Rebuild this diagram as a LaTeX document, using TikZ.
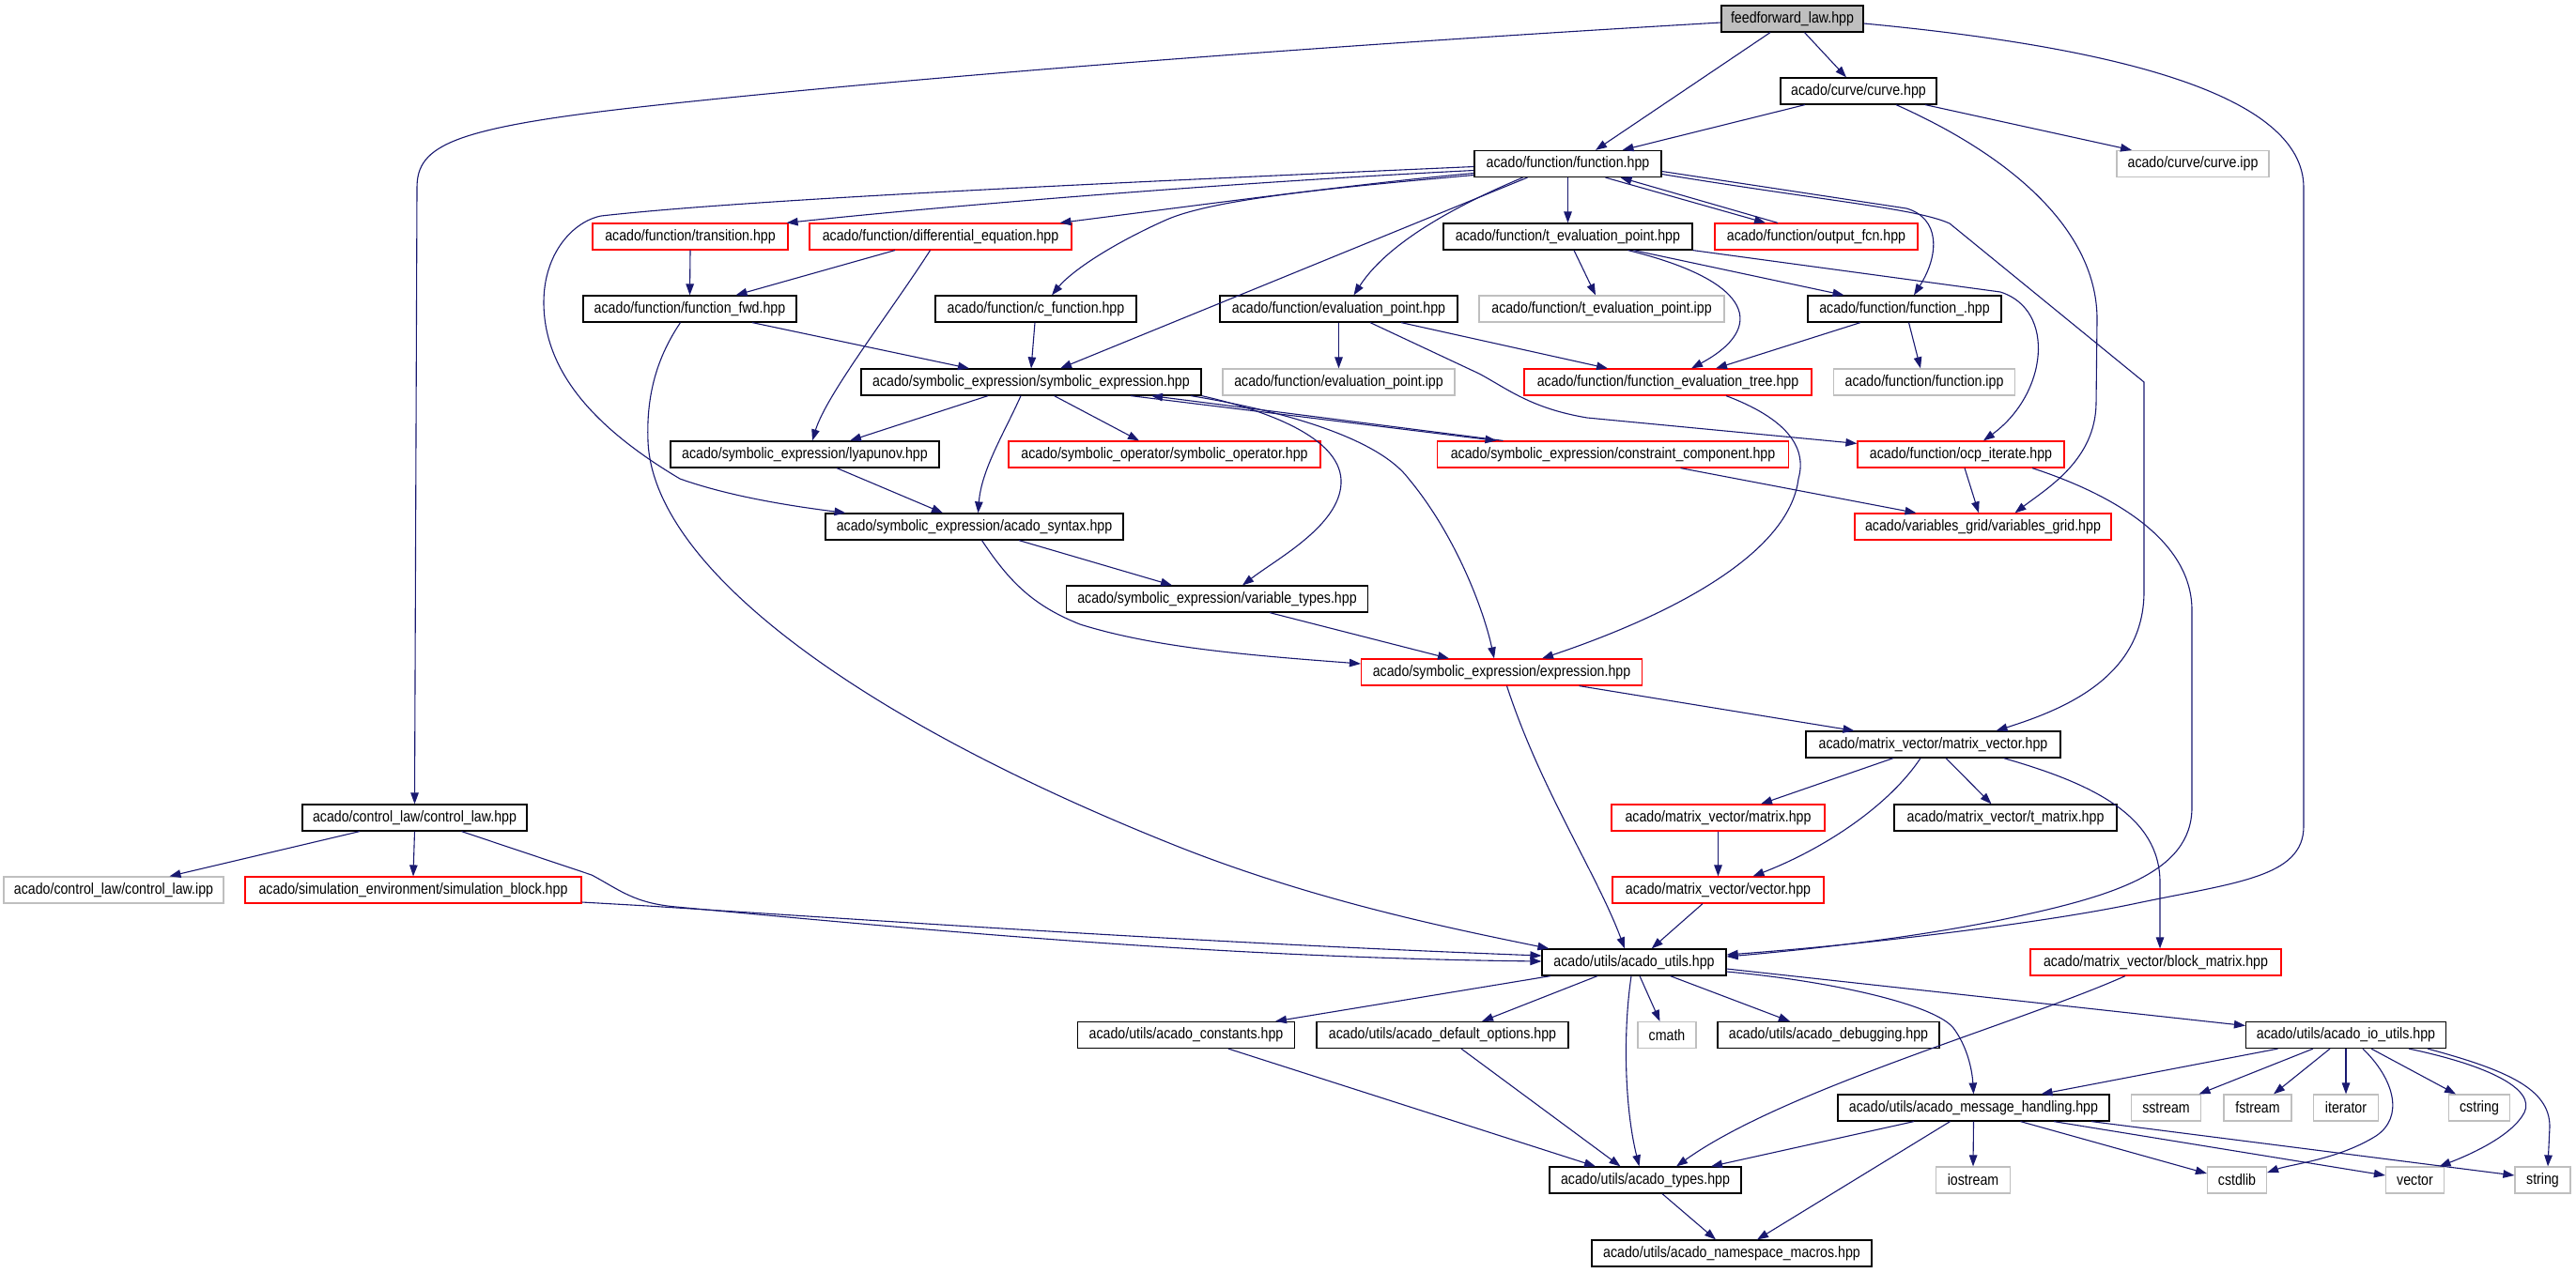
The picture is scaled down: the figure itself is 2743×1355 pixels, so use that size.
\documentclass[tikz,border=0pt]{standalone}
\usepackage{fontspec}
\setmainfont{Liberation Sans}[FakeStretch=0.86]
\usetikzlibrary{arrows.meta}
\definecolor{edgecol}{RGB}{25,25,112}
\definecolor{nodered}{RGB}{255,0,0}
\definecolor{nodegray}{RGB}{191,191,191}
\begin{document}
\begin{tikzpicture}[x=1pt,y=-1pt,
  nb/.style={draw=black, line width=1.2pt, fill=white, minimum height=28pt, inner xsep=2pt, inner ysep=0pt, font=\fontsize{16.5}{18}\selectfont, text=black},
  nr/.style={nb, draw=nodered},
  ng/.style={nb, draw=nodegray},
  lk/.style={draw=edgecol, line width=1.1pt, -{Triangle[length=12pt,width=8.5pt]}}]
\useasboundingbox (0,0) rectangle (2743,1355);
% nodes
\node[nb,minimum width=151pt,fill=nodegray] (F) at (1908.5,20) {feedforward\_law.hpp};
\node[nb,minimum width=166pt] (curve) at (1979,97) {acado/curve/curve.hpp};
\node[ng,minimum width=162pt] (curveipp) at (2335,174.5) {acado/curve/curve.ipp};
\node[nb,minimum width=199pt] (func) at (1669.5,174.5) {acado/function/function.hpp};
\node[nr,minimum width=208pt] (trans) at (735,252) {acado/function/transition.hpp};
\node[nr,minimum width=279pt] (diffeq) at (1001.5,252) {acado/function/differential\_equation.hpp};
\node[nb,minimum width=265pt] (tevalp) at (1669.5,252) {acado/function/t\_evaluation\_point.hpp};
\node[nr,minimum width=216pt] (outfcn) at (1934,252) {acado/function/output\_fcn.hpp};
\node[nb,minimum width=227pt] (ffwd) at (734.5,329) {acado/function/function\_fwd.hpp};
\node[nb,minimum width=214pt] (cfunc) at (1103,329) {acado/function/c\_function.hpp};
\node[nb,minimum width=253pt] (evalp) at (1425.5,329) {acado/function/evaluation\_point.hpp};
\node[ng,minimum width=261pt] (tevalipp) at (1705.5,329) {acado/function/t\_evaluation\_point.ipp};
\node[nb,minimum width=206pt] (funcu) at (2028,329) {acado/function/function\_.hpp};
\node[nb,minimum width=362pt] (symexp) at (1098,407) {acado/symbolic\_expression/symbolic\_expression.hpp};
\node[ng,minimum width=247pt] (evalipp) at (1425.5,407) {acado/function/evaluation\_point.ipp};
\node[nr,minimum width=306pt] (fevtree) at (1776,407) {acado/function/function\_evaluation\_tree.hpp};
\node[ng,minimum width=193pt] (funcipp) at (2049,407) {acado/function/function.ipp};
\node[nb,minimum width=286pt] (lyap) at (857,484) {acado/symbolic\_expression/lyapunov.hpp};
\node[nr,minimum width=332pt] (symop) at (1240,484) {acado/symbolic\_operator/symbolic\_operator.hpp};
\node[nr,minimum width=374pt] (constr) at (1717.5,484) {acado/symbolic\_expression/constraint\_component.hpp};
\node[nr,minimum width=220pt] (ocp) at (2088,484) {acado/function/ocp\_iterate.hpp};
\node[nb,minimum width=317pt] (syntax) at (1037.5,561) {acado/symbolic\_expression/acado\_syntax.hpp};
\node[nr,minimum width=273pt] (vgrid) at (2111.5,561) {acado/variables\_grid/variables\_grid.hpp};
\node[nb,minimum width=321pt] (vtypes) at (1296,638) {acado/symbolic\_expression/variable\_types.hpp};
\node[nr,minimum width=299pt] (expr) at (1599,716) {acado/symbolic\_expression/expression.hpp};
\node[nb,minimum width=271pt] (mv) at (2058.5,793) {acado/matrix\_vector/matrix\_vector.hpp};
\node[nb,minimum width=239pt] (claw) at (441.5,871) {acado/control\_law/control\_law.hpp};
\node[nr,minimum width=227pt] (matrix) at (1829.5,871) {acado/matrix\_vector/matrix.hpp};
\node[nb,minimum width=237pt] (tmatrix) at (2135.5,871) {acado/matrix\_vector/t\_matrix.hpp};
\node[ng,minimum width=234pt] (clawipp) at (121,948) {acado/control\_law/control\_law.ipp};
\node[nr,minimum width=358pt] (simblock) at (440,948) {acado/simulation\_environment/simulation\_block.hpp};
\node[nr,minimum width=225pt] (vector) at (1829.5,948) {acado/matrix\_vector/vector.hpp};
\node[nb,minimum width=196pt] (utils) at (1740,1025) {acado/utils/acado\_utils.hpp};
\node[nr,minimum width=267pt] (blockm) at (2295.5,1025) {acado/matrix\_vector/block\_matrix.hpp};
\node[nb,minimum width=231pt] (constn) at (1263,1102.5) {acado/utils/acado\_constants.hpp};
\node[nb,minimum width=268pt] (defopt) at (1536,1102.5) {acado/utils/acado\_default\_options.hpp};
\node[ng,minimum width=62pt] (cmath) at (1775,1102.5) {cmath};
\node[nb,minimum width=236pt] (debug) at (1947,1102.5) {acado/utils/acado\_debugging.hpp};
\node[nb,minimum width=213pt] (ioutils) at (2498,1102.5) {acado/utils/acado\_io\_utils.hpp};
\node[nb,minimum width=289pt] (msg) at (2101.5,1180) {acado/utils/acado\_message\_handling.hpp};
\node[ng,minimum width=74pt] (sstream) at (2306.5,1180) {sstream};
\node[ng,minimum width=72pt] (fstream) at (2404,1180) {fstream};
\node[ng,minimum width=69pt] (iterator) at (2498,1180) {iterator};
\node[ng,minimum width=65pt] (cstring) at (2640,1180) {cstring};
\node[nb,minimum width=204pt] (types) at (1752,1257) {acado/utils/acado\_types.hpp};
\node[ng,minimum width=79pt] (iostream) at (2101,1257) {iostream};
\node[ng,minimum width=63pt] (cstdlib) at (2382,1257) {cstdlib};
\node[ng,minimum width=62pt] (vectorstd) at (2571.5,1257) {vector};
\node[ng,minimum width=59pt] (string) at (2707.5,1257) {string};
\node[nb,minimum width=298pt] (nsmacros) at (1844,1335) {acado/utils/acado\_namespace\_macros.hpp};
% edges
\draw[lk] ([yshift=-4pt]F.west) .. controls (1300,55) and (900,90) .. (690,113) .. controls (480,136) and (444,155) .. (444,200) -- (claw.north);
\draw[lk] ([xshift=-23.5pt]F.south) -- ([xshift=29.5pt]func.north);
\draw[lk] ([xshift=13pt]F.south) -- ([xshift=-13pt]curve.north);
\draw[lk] ([yshift=-5pt]F.east) .. controls (2250,50) and (2453,100) .. (2453,200) -- (2453,880) .. controls (2453,935) and (2380,940) .. (2271,963) .. controls (2180,982) and (2000,1005) .. ([yshift=8pt]utils.east);
\draw[lk] ([yshift=-7pt]func.west) .. controls (1300,195) and (1000,220) .. ([xshift=-2pt]trans.north east);
\draw[lk] ([yshift=-10pt]func.west) .. controls (1450,195) and (1250,222) .. ([xshift=127pt]diffeq.north);
\draw[lk] ([yshift=-12pt]func.west) .. controls (1420,200) and (1290,212) .. (1240,235) .. controls (1180,262) and (1140,290) .. ([xshift=17pt]cfunc.north);
\draw[lk] ([yshift=-3pt]func.west) .. controls (1200,194) and (800,212) .. (640,230) .. controls (610,236) and (579,270) .. (579,322) .. controls (579,400) and (640,460) .. (724,510) .. controls (780,530) and (850,540) .. ([xshift=-137pt]syntax.north);
\draw[lk] ([xshift=-43pt]func.south) -- ([xshift=31pt]symexp.north);
\draw[lk] ([xshift=-48pt]func.south) .. controls (1560,215) and (1480,255) .. ([xshift=16pt]evalp.north);
\draw[lk] (func.south) -- (tevalp.north);
\draw[lk] ([xshift=40pt]func.south) -- ([xshift=-54pt]outfcn.north);
\draw[lk] ([xshift=-41pt]outfcn.north) -- ([xshift=56pt]func.south);
\draw[lk] ([yshift=-8pt]func.east) -- (2030,222) .. controls (2065,232) and (2066,270) .. ([xshift=10pt]funcu.north);
\draw[lk] ([yshift=-11pt]func.east) .. controls (1950,215) and (2040,222) .. (2076,238) -- (2283,407) -- (2283,630) .. controls (2283,720) and (2200,755) .. ([xshift=67pt]mv.north);
\draw[lk] ([xshift=-57pt]curve.south) -- ([xshift=58pt]func.north);
\draw[lk] ([xshift=71pt]curve.south) -- ([xshift=-65pt]curveipp.north);
\draw[lk] ([xshift=40pt]curve.south) .. controls (2150,170) and (2233,250) .. (2233,340) -- (2232,430) .. controls (2231,490) and (2180,520) .. ([xshift=34pt]vgrid.north);
\draw[lk] ([xshift=6.5pt]tevalp.south) -- ([xshift=-6.5pt]tevalipp.north);
\draw[lk] ([xshift=64pt]tevalp.south) .. controls (1870,300) and (1880,350) .. ([xshift=25pt]fevtree.north);
\draw[lk] ([xshift=70pt]tevalp.south) -- ([xshift=-64.5pt]funcu.north);
\draw[lk] (tevalp.south east) -- (2130,311) .. controls (2190,330) and (2180,420) .. ([xshift=24pt]ocp.north);
\draw[lk] ([xshift=-47pt]funcu.south) -- ([xshift=51pt]fevtree.north);
\draw[lk] ([xshift=4.5pt]funcu.south) -- ([xshift=-4pt]funcipp.north);
\draw[lk] (evalp.south) -- (evalipp.north);
\draw[lk] ([xshift=66.5pt]evalp.south) -- ([xshift=-64pt]fevtree.north);
\draw[lk] ([xshift=33.5pt]evalp.south) -- (1575,398) .. controls (1605,414) and (1630,435) .. (1690,445) -- ([yshift=-3pt]ocp.north west);
\draw[lk] ([xshift=-46pt]symexp.south) -- ([xshift=48pt]lyap.north);
\draw[lk] ([xshift=-11pt]diffeq.south) .. controls (950,330) and (880,420) .. ([xshift=8pt]lyap.north);
\draw[lk] ([xshift=-48.5pt]diffeq.south) -- ([xshift=49pt]ffwd.north);
\draw[lk] (trans.south) -- (ffwd.north);
\draw[lk] ([xshift=66.5pt]ffwd.south) -- ([xshift=-66pt]symexp.north);
\draw[lk] ([xshift=-1pt]cfunc.south) -- (symexp.north);
\draw[lk] ([xshift=-10pt]ffwd.south) .. controls (700,380) and (688,420) .. (690,470) .. controls (695,600) and (900,760) .. (1250,900) .. controls (1400,960) and (1550,990) .. ([xshift=8pt]utils.north west);
\draw[lk] ([xshift=-58.5pt]claw.south) -- ([xshift=59.5pt]clawipp.north);
\draw[lk] (claw.south) -- (simblock.north);
\draw[lk] ([xshift=50pt]claw.south) -- (630,932) .. controls (660,948) and (675,962) .. (720,966) .. controls (1000,992) and (1300,1020) .. ([yshift=1pt]utils.west);
\draw[lk] ([yshift=-13pt]simblock.east) -- (690,965) .. controls (1000,985) and (1300,1005) .. ([yshift=7pt]utils.west);
\draw[lk] ([xshift=-11pt]symexp.south) .. controls (1070,460) and (1045,500) .. ([xshift=4pt]syntax.north);
\draw[lk] ([xshift=24.5pt]symexp.south) -- ([xshift=-27pt]symop.north);
\draw[lk] ([xshift=106pt]symexp.south) -- ([xshift=-124pt]constr.north);
\draw[lk] ([xshift=-117pt]constr.north) -- ([xshift=128pt]symexp.south);
\draw[lk] (symexp.south east) .. controls (1360,440) and (1430,470) .. (1428,515) .. controls (1426,560) and (1360,595) .. ([xshift=27pt]vtypes.north);
\draw[lk] ([xshift=170pt]symexp.south) .. controls (1380,440) and (1470,470) .. (1500,510) .. controls (1550,570) and (1580,650) .. ([xshift=-8pt]expr.north);
\draw[lk] ([xshift=34pt]lyap.south) -- ([xshift=-33.5pt]syntax.north);
\draw[lk] ([xshift=47.5pt]syntax.south) -- ([xshift=-48pt]vtypes.north);
\draw[lk] ([xshift=8pt]syntax.south) .. controls (1075,620) and (1100,645) .. (1150,665) .. controls (1230,690) and (1330,698) .. ([yshift=9pt]expr.west);
\draw[lk] ([xshift=56pt]vtypes.south) -- ([xshift=-56pt]expr.north);
\draw[lk] ([xshift=72pt]constr.south) -- ([xshift=-71pt]vgrid.north);
\draw[lk] ([xshift=4pt]ocp.south) -- ([xshift=-4.5pt]vgrid.north);
\draw[lk] ([xshift=76pt]ocp.south) .. controls (2260,530) and (2334,580) .. (2334,650) -- (2334,860) .. controls (2334,930) and (2250,955) .. (2130,980) .. controls (2030,1000) and (1920,1012) .. ([yshift=6pt]utils.east);
\draw[lk] ([xshift=62pt]fevtree.south) .. controls (1900,445) and (1925,475) .. (1915,510) .. controls (1905,590) and (1780,655) .. ([xshift=43pt]expr.north);
\draw[lk] ([xshift=82.5pt]expr.south) -- ([xshift=-84pt]mv.north);
\draw[lk] ([xshift=5.5pt]expr.south) .. controls (1640,840) and (1700,930) .. ([xshift=-10pt]utils.north);
\draw[lk] ([xshift=-42.5pt]mv.south) -- ([xshift=45.5pt]matrix.north);
\draw[lk] ([xshift=13.5pt]mv.south) -- ([xshift=-15pt]tmatrix.north);
\draw[lk] ([xshift=-13.5pt]mv.south) .. controls (2010,860) and (1940,905) .. ([xshift=37pt]vector.north);
\draw[lk] ([xshift=75pt]mv.south) .. controls (2230,835) and (2300,870) .. (2300,940) -- ([xshift=4.5pt]blockm.north);
\draw[lk] (matrix.south) -- (vector.north);
\draw[lk] ([xshift=-16.5pt]vector.south) -- ([xshift=18.7pt]utils.north);
\draw[lk] ([xshift=-32.5pt]blockm.south) .. controls (2150,1090) and (1900,1160) .. ([xshift=33pt]types.north);
\draw[lk] ([xshift=-89pt]utils.south) -- ([xshift=95pt]constn.north);
\draw[lk] ([xshift=-39pt]utils.south) -- ([xshift=42pt]defopt.north);
\draw[lk] ([xshift=6pt]utils.south) -- ([xshift=-7.5pt]cmath.north);
\draw[lk] ([xshift=-3pt]utils.south) .. controls (1728,1100) and (1730,1180) .. ([xshift=-6.5pt]types.north);
\draw[lk] ([xshift=38.5pt]utils.south) -- ([xshift=-41pt]debug.north);
\draw[lk] ([yshift=-7pt]utils.east) -- ([yshift=10pt]ioutils.west);
\draw[lk] ([yshift=-10pt]utils.east) .. controls (1950,1045) and (2060,1070) .. (2080,1095) .. controls (2095,1115) and (2100,1140) .. (msg.north);
\draw[lk] ([xshift=45pt]constn.south) -- ([xshift=-53pt]types.north);
\draw[lk] ([xshift=20pt]defopt.south) -- ([xshift=-26.5pt]types.north);
\draw[lk] ([xshift=-63.5pt]msg.south) -- ([xshift=70pt]types.north);
\draw[lk] ([xshift=-25pt]msg.south) -- ([xshift=27pt]nsmacros.north);
\draw[lk] ([xshift=18pt]types.south) -- ([xshift=-17pt]nsmacros.north);
\draw[lk] (msg.south) -- (iostream.north);
\draw[lk] ([xshift=50pt]msg.south) -- ([yshift=7pt]cstdlib.west);
\draw[lk] ([xshift=85.5pt]msg.south) -- ([yshift=5pt]vectorstd.west);
\draw[lk] ([xshift=125.5pt]msg.south) -- ([yshift=5pt]string.west);
\draw[lk] ([xshift=-72.5pt]ioutils.south) -- ([xshift=72pt]msg.north);
\draw[lk] ([xshift=-35pt]ioutils.south) -- ([xshift=35pt]sstream.north);
\draw[lk] ([xshift=-17pt]ioutils.south) -- ([xshift=17pt]fstream.north);
\draw[lk] (ioutils.south) -- (iterator.north);
\draw[lk] ([xshift=18pt]ioutils.south) .. controls (2550,1150) and (2560,1190) .. (2530,1210) .. controls (2490,1235) and (2440,1240) .. ([yshift=8pt]cstdlib.east);
\draw[lk] ([xshift=27pt]ioutils.south) -- ([xshift=-25pt]cstring.north);
\draw[lk] ([xshift=67pt]ioutils.south) .. controls (2650,1135) and (2700,1160) .. (2688,1185) .. controls (2675,1210) and (2630,1230) .. ([xshift=26pt]vectorstd.north);
\draw[lk] ([xshift=87pt]ioutils.south) .. controls (2670,1140) and (2715,1160) .. (2715,1200) -- ([xshift=5.5pt]string.north);
\end{tikzpicture}
\end{document}
